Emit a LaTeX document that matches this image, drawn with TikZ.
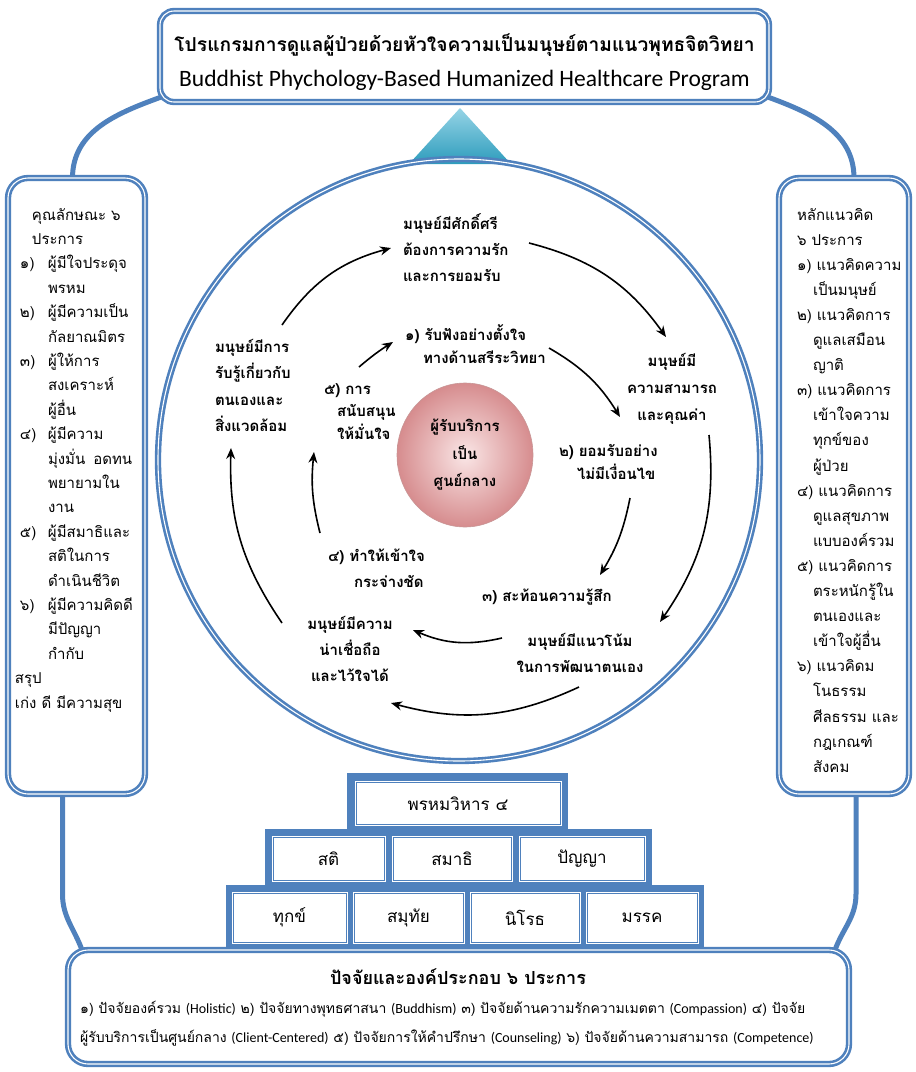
\documentclass[tikz,border=0pt]{standalone}
\usepackage{fontspec}
\setmainfont{Carlito}
\newfontfamily\thai[Script=Thai]{Loma}
\newfontfamily\en{Carlito}
\usetikzlibrary{arrows.meta,shapes.geometric}
\definecolor{bblue}{RGB}{79,129,189}
\definecolor{triTop}{RGB}{150,212,230}
\definecolor{triBot}{RGB}{45,156,188}
\definecolor{pinkIn}{RGB}{250,230,230}
\definecolor{pinkOut}{RGB}{214,140,142}
\definecolor{pinkLine}{RGB}{200,150,150}
\newcommand\firstln{\rule{0pt}{16pt}}
\tikzset{
 panel/.style={draw=bblue, double=white, double distance=1.1pt, line width=2.6pt, fill=white, rounded corners=16pt, inner sep=0pt, outer sep=0pt},
 conn/.style={draw=bblue, line width=5pt},
 pbox/.style={draw=bblue, double=white, double distance=1pt, line width=1pt, fill=white, inner sep=0pt, outer sep=0pt, font=\thai\fontsize{17}{19}\selectfont},
 arr/.style={-{Stealth[length=11pt,width=9pt]}, line width=1.6pt},
 ctext/.style={font=\thai\bfseries\fontsize{15}{26}\selectfont, inner sep=0pt, outer sep=0pt},
 ptext/.style={font=\thai\fontsize{15}{24.4}\selectfont, align=left, inner sep=0pt, outer sep=0pt, anchor=north west},
}
\begin{document}
\begin{tikzpicture}[x=1pt,y=-1pt]
\useasboundingbox (0,0) rectangle (916,1072);
% nodes that connectors attach to
\path (464.5,56.5) node[minimum width=609pt, minimum height=91pt, inner sep=0pt, outer sep=0pt] (title) {};
\path (8,178) node[anchor=north west, minimum width=137pt, minimum height=616pt, inner sep=0pt, outer sep=0pt] (lpanel) {};
\path (779,178) node[anchor=north west, minimum width=130pt, minimum height=616pt, inner sep=0pt, outer sep=0pt] (rpanel) {};
\path (68,950) node[anchor=north west, minimum width=781pt, minimum height=114pt, inner sep=0pt, outer sep=0pt] (bbox) {};
% connectors
\draw[conn] ([xshift=4pt,yshift=6pt]title.south west) to[out=200,in=90] ([xshift=-4pt]lpanel.north);
\draw[conn] ([xshift=-4pt,yshift=6pt]title.south east) to[out=-20,in=90] ([xshift=10pt]rpanel.north);
\draw[conn] ([xshift=-14pt]lpanel.south) -- ++(0,100) to[out=-90,in=110] ([xshift=14pt]bbox.north west);
\draw[conn] ([xshift=12pt]rpanel.south) -- ++(0,100) to[out=-90,in=70] ([xshift=-14pt]bbox.north east);
% triangle
\shade[top color=triTop, bottom color=triBot] (460,108) -- (409,164) -- (511,164) -- cycle;
% big circle
\node[circle, draw=bblue, double=white, double distance=1.1pt, line width=2.6pt, minimum size=602pt, inner sep=0pt, outer sep=0pt] (ring) at (459,460) {};
% boxes
\node[panel, minimum width=609pt, minimum height=91pt, rounded corners=14pt] (titlebox) at (title.center) {};
\node[align=center, inner sep=0pt] (titletext) at (464.5,62) {{\thai\bfseries\fontsize{19.2}{20}\selectfont โปรแกรมการดูแลผู้ป่วยด้วยหัวใจความเป็นมนุษย์ตามแนวพุทธจิตวิทยา}\\[12pt]{\en\fontsize{23.5}{24}\selectfont Buddhist Phychology-Based Humanized Healthcare Program}};
\node[panel, minimum width=137pt, minimum height=616pt, rounded corners=20pt] (lbox) at (lpanel.center) {};
\node[panel, minimum width=130pt, minimum height=616pt, rounded corners=20pt] (rbox) at (rpanel.center) {};
% pyramid
\fill[bblue] (347,773) rectangle (568,832);
\fill[bblue] (265,829) rectangle (652,888);
\fill[bblue] (226,885) rectangle (704,950);
\node[pbox, minimum width=206pt, minimum height=44pt] (brahma) at (458,803.5) {พรหมวิหาร ๔};
\node[pbox, minimum width=113pt, minimum height=45pt] (sati) at (328.5,858.5) {สติ};
\node[pbox, minimum width=120pt, minimum height=45pt] (samadhi) at (452,858.5) {สมาธิ};
\node[pbox, minimum width=126pt, minimum height=45pt] (panya) at (582,858.5) {ปัญญา};
\node[pbox, minimum width=115pt, minimum height=51pt] (dukkha) at (289.5,917.5) {ทุกข์};
\node[pbox, minimum width=111pt, minimum height=51pt] (samudaya) at (408.5,917.5) {สมุทัย};
\node[pbox, minimum width=110pt, minimum height=51pt] (nirodha) at (525,917.5) {นิโรธ};
\node[pbox, minimum width=112pt, minimum height=51pt] (magga) at (642,917.5) {มรรค};
% bottom box
\node[panel, minimum width=781pt, minimum height=114pt, rounded corners=20pt] (bottom) at (bbox.center) {};
\node[font=\thai\bfseries\fontsize{18}{20}\selectfont, inner sep=0pt] (btitle) at (458,977) {ปัจจัยและองค์ประกอบ ๖ ประการ};
\node[font=\thai\fontsize{14}{29}\selectfont, align=left, anchor=north west, inner sep=0pt] (btext) at (80,1001) {๑) ปัจจัยองค์รวม {\en(Holistic)} ๒) ปัจจัยทางพุทธศาสนา {\en(Buddhism)} ๓) ปัจจัยด้านความรักความเมตตา {\en(Compassion)} ๔) ปัจจัย\\ผู้รับบริการเป็นศูนย์กลาง {\en(Client-Centered)} ๕) ปัจจัยการให้คำปรึกษา {\en(Counseling)} ๖) ปัจจัยด้านความสามารถ {\en(Competence)}};
% left panel text
\node[ptext] (ltext) at (15,204) {%
\firstln\hspace*{17pt}คุณลักษณะ ๖\\
\hspace*{17pt}ประการ\\
\hspace*{5pt}\makebox[28pt][l]{๑)}ผู้มีใจประดุจ\\
\hspace*{33pt}พรหม\\
\hspace*{5pt}\makebox[28pt][l]{๒)}ผู้มีความเป็น\\
\hspace*{33pt}กัลยาณมิตร\\
\hspace*{5pt}\makebox[28pt][l]{๓)}ผู้ให้การ\\
\hspace*{33pt}สงเคราะห์\\
\hspace*{33pt}ผู้อื่น\\
\hspace*{5pt}\makebox[28pt][l]{๔)}ผู้มีความ\\
\hspace*{33pt}มุ่งมั่น\hspace{8pt}อดทน\\
\hspace*{33pt}พยายามใน\\
\hspace*{33pt}งาน\\
\hspace*{5pt}\makebox[28pt][l]{๕)}ผู้มีสมาธิและ\\
\hspace*{33pt}สติในการ\\
\hspace*{33pt}ดำเนินชีวิต\\
\hspace*{5pt}\makebox[28pt][l]{๖)}ผู้มีความคิดดี\\
\hspace*{33pt}มีปัญญา\\
\hspace*{33pt}กำกับ\\
สรุป\\
เก่ง ดี มีความสุข};
% right panel text
\node[ptext, font=\thai\fontsize{15}{25.1}\selectfont] (rtext) at (797,204) {%
\firstln หลักแนวคิด\\
๖ ประการ\\
๑) แนวคิดความ\\
\hspace*{16pt}เป็นมนุษย์\\
๒) แนวคิดการ\\
\hspace*{16pt}ดูแลเสมือน\\
\hspace*{16pt}ญาติ\\
๓) แนวคิดการ\\
\hspace*{16pt}เข้าใจความ\\
\hspace*{16pt}ทุกข์ของ\\
\hspace*{16pt}ผู้ป่วย\\
๔) แนวคิดการ\\
\hspace*{16pt}ดูแลสุขภาพ\\
\hspace*{16pt}แบบองค์รวม\\
๕) แนวคิดการ\\
\hspace*{16pt}ตระหนักรู้ใน\\
\hspace*{16pt}ตนเองและ\\
\hspace*{16pt}เข้าใจผู้อื่น\\
๖) แนวคิดม\\
\hspace*{16pt}โนธรรม\\
\hspace*{16pt}ศีลธรรม และ\\
\hspace*{16pt}กฎเกณฑ์\\
\hspace*{16pt}สังคม};
% centre
\node[ellipse, minimum width=136pt, minimum height=144pt, inner sep=0pt, inner color=pinkIn, outer color=pinkOut, draw=pinkLine, line width=0.6pt, align=center, font=\thai\bfseries\fontsize{15}{27.5}\selectfont] (client) at (465,455) {ผู้รับบริการ\\เป็น\\ศูนย์กลาง};
% circle texts
\node[ctext, anchor=north west, align=left] (dign) at (403,213) {\firstln มนุษย์มีศักดิ์ศรี\\ต้องการความรัก\\และการยอมรับ};
\node[ctext, anchor=north, align=center, font=\thai\bfseries\fontsize{15}{27}\selectfont] (abil) at (672,350) {\firstln มนุษย์มี\\ความสามารถ\\และคุณค่า};
\node[ctext, anchor=north, align=center] (tend) at (580,630) {\firstln มนุษย์มีแนวโน้ม\\ในการพัฒนาตนเอง};
\node[ctext, anchor=north, align=center] (trust) at (350,613) {\firstln มนุษย์มีความ\\น่าเชื่อถือ\\และไว้ใจได้};
\node[ctext, anchor=north west, align=left, font=\thai\bfseries\fontsize{15}{26.5}\selectfont] (perc) at (215,336) {\firstln มนุษย์มีการ\\รับรู้เกี่ยวกับ\\ตนเองและ\\สิ่งแวดล้อม};
\node[ctext, anchor=north west, align=left, font=\thai\bfseries\fontsize{15}{23}\selectfont] (s1) at (405,324) {\firstln ๑) รับฟังอย่างตั้งใจ\\\hspace*{18pt}ทางด้านสรีระวิทยา};
\node[ctext, anchor=north west, align=left, font=\thai\bfseries\fontsize{15}{23}\selectfont] (s2) at (559,440) {\firstln ๒) ยอมรับอย่าง\\\hspace*{18pt}ไม่มีเงื่อนไข};
\node[ctext, anchor=north west, align=left] (s3) at (482,585) {\firstln ๓) สะท้อนความรู้สึก};
\node[ctext, anchor=north west, align=left] (s4) at (328,545) {\firstln ๔) ทำให้เข้าใจ\\\hspace*{26pt}กระจ่างชัด};
\node[ctext, anchor=north west, align=left, font=\thai\bfseries\fontsize{15}{22.5}\selectfont] (s5) at (324,378) {\firstln ๕) การ\\\hspace*{13pt}สนับสนุน\\\hspace*{13pt}ให้มั่นใจ};
% outer cycle arrows
\draw[arr] ([shift={(67,-11)}]perc.north west) to[bend left=20] ([shift={(-12,35)}]dign.north west);
\draw[arr] ([shift={(126,30)}]dign.north west) to[bend left=20] ([shift={(-6,-13)}]abil.north);
\draw[arr] ([shift={(37,85)}]abil.north) to[bend left=20] ([shift={(80,-8)}]tend.north);
\draw[arr] ([shift={(-1,57)}]tend.north) to[bend left=20] ([shift={(41,90)}]trust.north);
\draw[arr] ([shift={(-68,10)}]trust.north) to[bend left=18] ([shift={(16,112)}]perc.north west);
% inner cycle arrows
\draw[arr] ([shift={(35,-11)}]s5.north west) to[bend left=4] ([shift={(-12,18)}]s1.north west);
\draw[arr] ([shift={(144,24)}]s1.north west) to[bend left=14] ([shift={(61,-23)}]s2.north west);
\draw[arr] ([shift={(71,58)}]s2.north west) to[bend left=10] ([shift={(118,-10)}]s3.north west);
\draw[arr] ([shift={(20,53)}]s3.north west) to[bend left=18] ([shift={(85,85)}]s4.north west);
\draw[arr] ([shift={(-8,-12)}]s4.north west) to[bend left=10] ([shift={(-10,74)}]s5.north west);
\end{tikzpicture}
\end{document}
